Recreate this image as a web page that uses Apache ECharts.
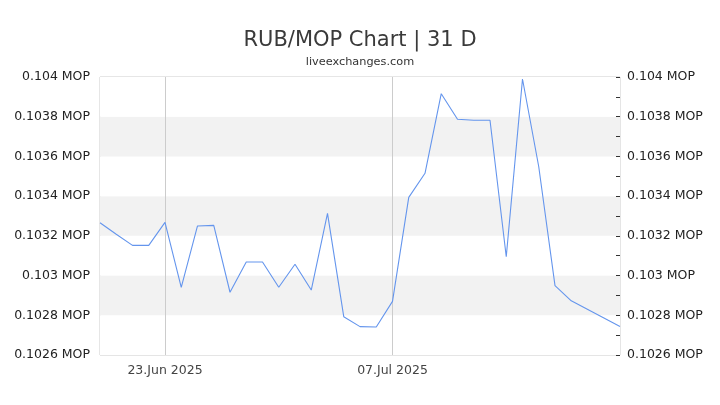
<!DOCTYPE html>
<html><head><meta charset="utf-8">
<script src="https://cdn.jsdelivr.net/npm/echarts@6/dist/echarts.min.js"></script>
<style>html,body{margin:0;padding:0;background:#fff}#c{width:720px;height:405px}</style>
</head><body><div id="c"></div>
<script>
const dates = ["2025-06-19","2025-06-20","2025-06-21","2025-06-22","2025-06-23","2025-06-24","2025-06-25","2025-06-26","2025-06-27","2025-06-28","2025-06-29","2025-06-30","2025-07-01","2025-07-02","2025-07-03","2025-07-04","2025-07-05","2025-07-06","2025-07-07","2025-07-08","2025-07-09","2025-07-10","2025-07-11","2025-07-12","2025-07-13","2025-07-14","2025-07-15","2025-07-16","2025-07-17","2025-07-18","2025-07-21"];
const rates = [0.103266,0.103208,0.103152,0.103152,0.103268,0.102941,0.10325,0.103253,0.102916,0.103068,0.103068,0.102941,0.103057,0.102927,0.103313,0.102793,0.102743,0.102741,0.10287,0.103394,0.103515,0.103916,0.103787,0.103782,0.103782,0.103095,0.10399,0.103548,0.102949,0.102873,0.102743];
const xTicks = ["2025-06-23","2025-07-07"];
const yTicks = [0.1026,0.1028,0.103,0.1032,0.1034,0.1036,0.1038,0.104];
const monthNames = ["Jan","Feb","Mar","Apr","May","Jun","Jul","Aug","Sep","Oct","Nov","Dec"];

const ff = "DejaVu Sans";
const chart = echarts.init(document.getElementById('c'));
const t = d => +new Date(d + "T00:00:00Z");
const tickTimes = xTicks.map(t);
function fmtY(v){ return (+(+v).toFixed(4)) + " MOP"; }
chart.setOption({
  animation:false,
  title:{text:"RUB/MOP Chart | 31 D", subtext:"liveexchanges.com", left:"center", top:25,
    textStyle:{fontFamily:ff,fontSize:21,fontWeight:"normal",color:"#3a3a3a"},
    subtextStyle:{fontFamily:ff,fontSize:11.3,color:"#333"}, itemGap:6},
  grid:{left:100,right:100,top:77,bottom:50,show:true,borderColor:"#ccc",borderWidth:1},
  xAxis:{type:"value", min:t(dates[0]), max:t(dates[dates.length-1]),
    axisLine:{show:false},
    axisTick:{show:false,customValues:tickTimes},
    axisLabel:{fontFamily:ff,fontSize:12.5,color:"#444",margin:9,
      customValues:tickTimes,
      formatter:function(v){const d=new Date(v);return String(d.getUTCDate()).padStart(2,"0")+"."+monthNames[d.getUTCMonth()]+" "+d.getUTCFullYear();}},
    splitLine:{show:true,lineStyle:{color:"#ccc",width:1}}
  },
  yAxis:[
    {type:"value",min:yTicks[0],max:yTicks[yTicks.length-1],interval:0.0002,position:"left",
      axisLine:{show:false},axisTick:{show:false},
      axisLabel:{fontFamily:ff,fontSize:12.5,color:"#222",margin:10,formatter:fmtY},
      splitLine:{show:false},
      splitArea:{show:true,areaStyle:{color:["#ffffff","#f2f2f2"]}}},
    {type:"value",min:yTicks[0],max:yTicks[yTicks.length-1],interval:0.0002,position:"right",
      axisLine:{show:false},axisTick:{show:true,inside:true,length:4,lineStyle:{color:"#333"}},
      minorTick:{show:true,splitNumber:2,length:4,lineStyle:{color:"#333"}},
      axisLabel:{fontFamily:ff,fontSize:12.5,color:"#222",margin:7,formatter:fmtY},
      splitLine:{show:false}}
  ],
  series:[{type:"line",yAxisIndex:0,showSymbol:false,symbol:"none",
    lineStyle:{color:"#6495ed",width:1.1},
    data:dates.map((d,i)=>[t(d),rates[i]])}]
});
</script></body></html>
